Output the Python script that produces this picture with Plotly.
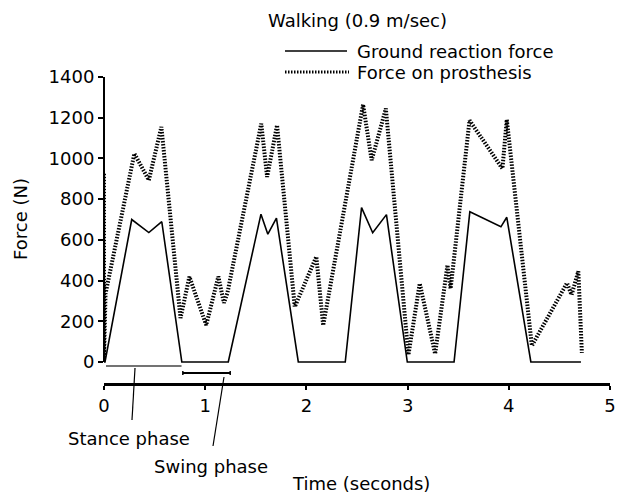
import plotly.graph_objects as go

# ---------------- data ----------------
time_grf = [0.0, 0.01, 0.274, 0.443, 0.571, 0.769, 1.228, 1.551, 1.619, 1.704,
            1.920, 2.384, 2.545, 2.655, 2.791, 2.997, 3.459, 3.615, 3.922, 3.980,
            4.218, 4.713]
ground_reaction_force = [0, 0, 700, 636, 689, 0, 0, 726, 628, 707,
                         0, 0, 758, 635, 724, 0, 0, 738, 664, 711,
                         0, 0]

time_pros = [0.0, 0.0, 0.015, 0.300, 0.443, 0.567, 0.756, 0.844, 1.010, 1.130,
             1.185, 1.220, 1.554, 1.612, 1.710, 1.885, 2.098, 2.166, 2.560, 2.645,
             2.785, 3.008, 3.120, 3.272, 3.394, 3.425, 3.612, 3.937, 3.980, 4.228,
             4.575, 4.620, 4.687, 4.722]
force_on_prosthesis = [925, 10, 335, 1024, 893, 1155, 216, 419, 181, 420,
                       290, 340, 1171, 909, 1163, 271, 517, 180, 1265, 991,
                       1245, 35, 386, 40, 476, 360, 1187, 950, 1191, 80,
                       388, 330, 445, 45]

x_ticks = [0, 1, 2, 3, 4, 5]
y_ticks = [0, 200, 400, 600, 800, 1000, 1200, 1400]

legend_title = "Walking (0.9 m/sec)"
name_grf = "Ground reaction force"
name_pros = "Force on prosthesis"
x_title = "Time (seconds)"
y_title = "Force (N)"
stance_label = "Stance phase"
swing_label = "Swing phase"
stance_span = [0.02, 0.766]
swing_span = [0.779, 1.247]

# ---------------- layout geometry ----------------
W, H = 621, 495
ML, MR, MT, MB = 104, 11, 77, 112
PW, PH = W - ML - MR, H - MT - MB
FONT = "DejaVu Sans"
FS = 18


def px(xp):
    return (xp - ML) / PW


def py(yp):
    return (H - MB - yp) / PH


DOT = "1.5px,1.5px"

fig = go.Figure()
fig.add_trace(go.Scatter(x=time_grf, y=ground_reaction_force, mode="lines",
                         name=name_grf, line=dict(color="black", width=1.6)))
fig.add_trace(go.Scatter(x=time_pros, y=force_on_prosthesis, mode="lines",
                         name=name_pros,
                         line=dict(color="black", width=4, dash=DOT)))

shapes = [
    # y-axis line (0..1400 only)
    dict(type="line", xref="paper", yref="y", x0=0, x1=0, y0=0, y1=1400,
         line=dict(color="black", width=2)),
    # stance phase bar
    dict(type="line", xref="x", yref="y", x0=stance_span[0], x1=stance_span[1],
         y0=-20, y1=-20, line=dict(color="#444", width=1.5)),
    # swing phase bar with caps
    dict(type="line", xref="x", yref="y", x0=swing_span[0], x1=swing_span[1],
         y0=-54, y1=-54, line=dict(color="black", width=1.8)),
    dict(type="line", xref="x", yref="y", x0=swing_span[0], x1=swing_span[0],
         y0=-44, y1=-64, line=dict(color="black", width=1.5)),
    dict(type="line", xref="x", yref="y", x0=swing_span[1], x1=swing_span[1],
         y0=-44, y1=-64, line=dict(color="black", width=1.5)),
    # leader lines
    dict(type="line", xref="paper", yref="paper", x0=px(135), x1=px(132),
         y0=py(368), y1=py(420), line=dict(color="black", width=1.2)),
    dict(type="line", xref="paper", yref="paper", x0=px(224), x1=px(213),
         y0=py(377), y1=py(446), line=dict(color="black", width=1.2)),
    # legend keys
    dict(type="line", xref="paper", yref="paper", x0=px(285), x1=px(347),
         y0=py(51), y1=py(51), line=dict(color="black", width=1.6)),
    dict(type="line", xref="paper", yref="paper", x0=px(285), x1=px(349),
         y0=py(72), y1=py(72), line=dict(color="black", width=3, dash=DOT)),
]

font = dict(family=FONT, size=FS, color="black")
annotations = [
    dict(text=legend_title, xref="paper", yref="paper", x=px(266), y=py(21),
         xanchor="left", yanchor="middle", showarrow=False, font=font),
    dict(text=name_grf, xref="paper", yref="paper", x=px(355), y=py(51),
         xanchor="left", yanchor="middle", showarrow=False, font=font),
    dict(text=name_pros, xref="paper", yref="paper", x=px(355), y=py(72),
         xanchor="left", yanchor="middle", showarrow=False, font=font),
    dict(text=stance_label, xref="paper", yref="paper", x=px(66), y=py(438),
         xanchor="left", yanchor="middle", showarrow=False, font=font),
    dict(text=swing_label, xref="paper", yref="paper", x=px(152), y=py(466),
         xanchor="left", yanchor="middle", showarrow=False, font=font),
    dict(text=x_title, xref="paper", yref="paper", x=px(361), y=py(483),
         xanchor="center", yanchor="middle", showarrow=False, font=font),
    dict(text=y_title, xref="paper", yref="y", x=px(20.5), y=700,
         xanchor="center", yanchor="middle", textangle=-90, showarrow=False,
         font=font),
]

fig.update_layout(
    width=W, height=H,
    margin=dict(l=ML, r=MR, t=MT, b=MB, pad=0, autoexpand=False),
    paper_bgcolor="white", plot_bgcolor="white",
    showlegend=False,
    font=font,
    shapes=shapes,
    annotations=annotations,
    xaxis=dict(range=[0, 5.0], tickvals=x_ticks, ticks="outside", ticklen=4,
               tickwidth=1.5, tickcolor="black", showline=True, linewidth=3,
               linecolor="black", showgrid=False, zeroline=False,
               tickfont=font, ticklabeloverflow="allow", automargin=False),
    yaxis=dict(range=[-103.2, 1400], tickvals=y_ticks, ticks="outside",
               ticklen=5, tickwidth=1.5, tickcolor="black", showline=False,
               showgrid=False, zeroline=False, tickfont=font,
               automargin=False),
)

fig.write_html("out.html",
               config={"displayModeBar": False},
               post_script="document.body.style.margin='0';"
                           "document.body.style.overflow='hidden';")
